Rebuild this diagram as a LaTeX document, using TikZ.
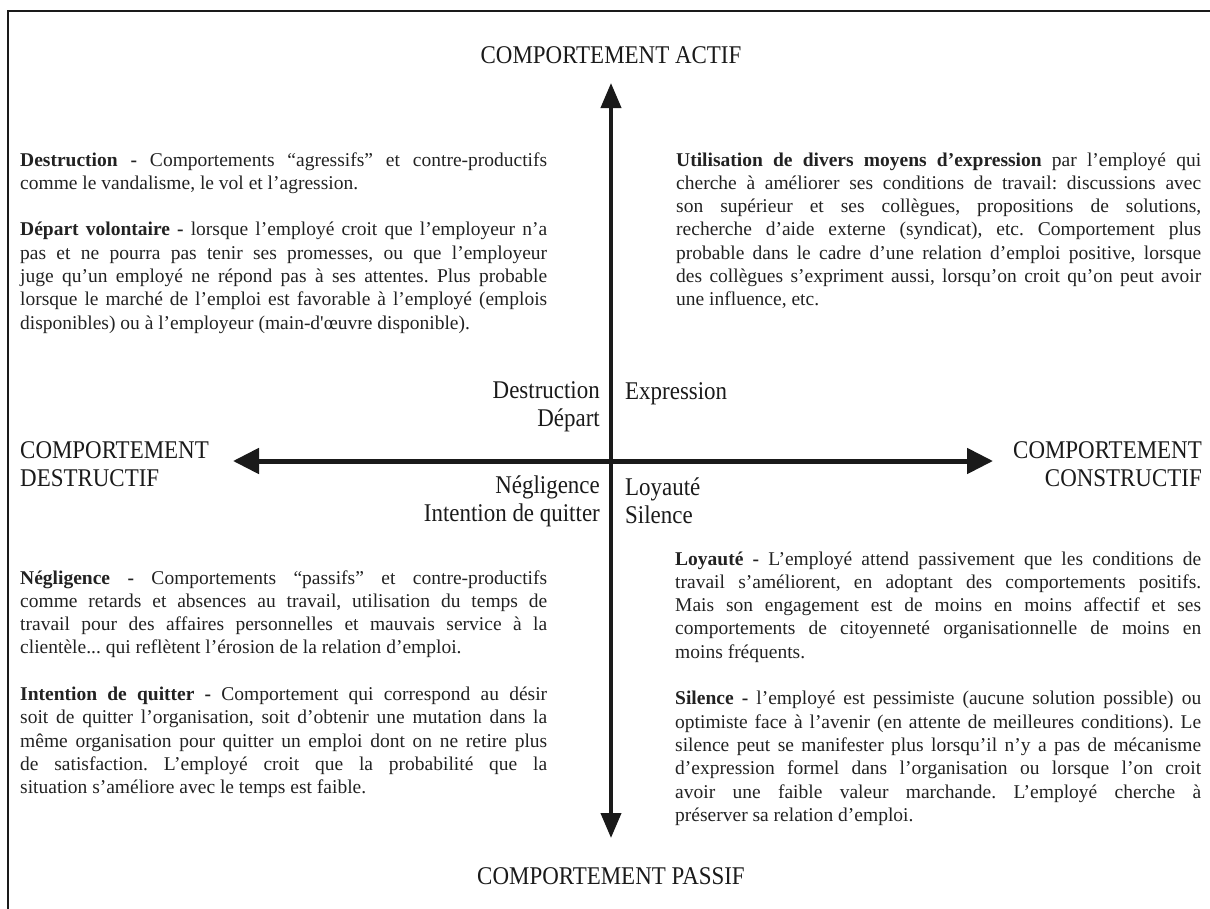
\documentclass[tikz,border=0pt]{standalone}
\usepackage{fontspec}
\setmainfont{Liberation Serif}
\newfontfamily\lblfont[FakeStretch=0.9]{Liberation Serif}
\usetikzlibrary{arrows.meta}
\definecolor{ink}{HTML}{1A1A1A}
\definecolor{txt}{HTML}{222222}
\newcommand{\jline}[1]{\hbox to \hsize{#1}}
\newcommand{\eline}[1]{\hbox{#1}}
\newcommand{\pgap}{\vskip\baselineskip}
\tikzset{
  axislabel/.style={inner sep=0pt, text=ink, font=\lblfont\fontsize{25.5bp}{28bp}\selectfont},
  body/.style={inner sep=0pt, text=txt, anchor=base west, font=\fontsize{19.5bp}{23.3bp}\selectfont\frenchspacing},
  haxis/.style={line width=5bp, draw=ink, {Triangle[length=26bp,width=25bp]}-{Triangle[length=26bp,width=25bp]}},
  vaxis/.style={line width=4bp, draw=ink, {Triangle[length=25bp,width=20bp]}-{Triangle[length=25bp,width=20bp]}},
  frame/.style={line width=2.5bp, draw=ink}
}
\begin{document}
\begin{tikzpicture}[x=1bp,y=-1bp]
\useasboundingbox (0,0) rectangle (1210,909);
% frame
\coordinate (fbl) at (8,909);
\coordinate (ftl) at (8,11);
\coordinate (ftr) at (1210,11);
\draw[frame] (fbl) -- (ftl) -- (ftr);

% axes
\coordinate (vtop) at (611,83);
\coordinate (vbot) at (611,838);
\coordinate (hleft) at (233,461);
\coordinate (hright) at (993,461);
\draw[vaxis] (vbot) -- (vtop);
\draw[haxis] (hleft) -- (hright);

% axis labels
\node[axislabel, anchor=center] (actif) at (611,55) {COMPORTEMENT ACTIF};
\node[axislabel, anchor=center] (passif) at (611,876) {COMPORTEMENT PASSIF};
\node[axislabel, anchor=west, align=left] (destr) at (20,464) {COMPORTEMENT\\DESTRUCTIF};
\node[axislabel, anchor=east, align=right] (constr) at (1202,464) {COMPORTEMENT\\CONSTRUCTIF};

% quadrant labels
\node[axislabel, anchor=east, align=right] (qul) at (600,407) {Destruction\\Départ};
\node[axislabel, anchor=west, align=left] (qur) at (625,394) {Expression};
\node[axislabel, anchor=east, align=right] (qll) at (600,501) {Négligence\\Intention de quitter};
\node[axislabel, anchor=west, align=left] (qlr) at (625,501) {Loyauté\\Silence};

% upper left text
\node[body] (tul) at (20,166) {\vtop{\hsize=527bp
\jline{\textbf{Destruction -} Comportements “agressifs” et contre-productifs}
\eline{comme le vandalisme, le vol et l’agression.}
\pgap
\jline{\textbf{Départ volontaire -} lorsque l’employé croit que l’employeur n’a}
\jline{pas et ne pourra pas tenir ses promesses, ou que l’employeur}
\jline{juge qu’un employé ne répond pas à ses attentes. Plus probable}
\jline{lorsque le marché de l’emploi est favorable à l’employé (emplois}
\eline{disponibles) ou à l’employeur (main-d\textquotesingle œuvre disponible).}
}};

% upper right text
\node[body] (tur) at (676,166) {\vtop{\hsize=525bp
\jline{\textbf{Utilisation de divers moyens d’expression} par l’employé qui}
\jline{cherche à améliorer ses conditions de travail: discussions avec}
\jline{son supérieur et ses collègues, propositions de solutions,}
\jline{recherche d’aide externe (syndicat), etc. Comportement plus}
\jline{probable dans le cadre d’une relation d’emploi positive, lorsque}
\jline{des collègues s’expriment aussi, lorsqu’on croit qu’on peut avoir}
\eline{une influence, etc.}
}};

% lower left text
\node[body] (tll) at (20,584) {\vtop{\hsize=527bp
\jline{\textbf{Négligence -} Comportements “passifs” et contre-productifs}
\jline{comme retards et absences au travail, utilisation du temps de}
\jline{travail pour des affaires personnelles et mauvais service à la}
\eline{clientèle... qui reflètent l’érosion de la relation d’emploi.}
\pgap
\jline{\textbf{Intention de quitter -} Comportement qui correspond au désir}
\jline{soit de quitter l’organisation, soit d’obtenir une mutation dans la}
\jline{même organisation pour quitter un emploi dont on ne retire plus}
\jline{de satisfaction. L’employé croit que la probabilité que la}
\eline{situation s’améliore avec le temps est faible.}
}};

% lower right text
\node[body] (tlr) at (675,565) {\vtop{\hsize=526bp
\jline{\textbf{Loyauté -} L’employé attend passivement que les conditions de}
\jline{travail s’améliorent, en adoptant des comportements positifs.}
\jline{Mais son engagement est de moins en moins affectif et ses}
\jline{comportements de citoyenneté organisationnelle de moins en}
\eline{moins fréquents.}
\pgap
\jline{\textbf{Silence -} l’employé est pessimiste (aucune solution possible) ou}
\jline{optimiste face à l’avenir (en attente de meilleures conditions). Le}
\jline{silence peut se manifester plus lorsqu’il n’y a pas de mécanisme}
\jline{d’expression formel dans l’organisation ou lorsque l’on croit}
\jline{avoir une faible valeur marchande. L’employé cherche à}
\eline{préserver sa relation d’emploi.}
}};
\end{tikzpicture}
\end{document}
